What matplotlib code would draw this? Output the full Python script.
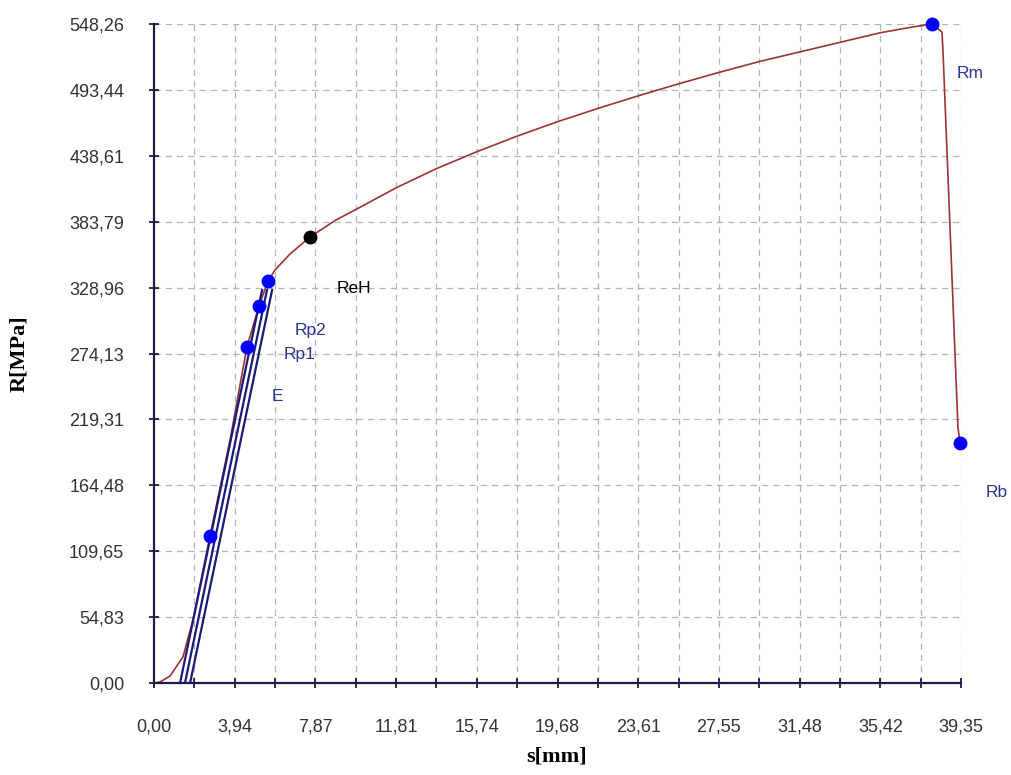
import matplotlib
matplotlib.use("Agg")
import matplotlib.pyplot as plt
from matplotlib.ticker import FixedLocator, FixedFormatter

# strain-stress curve, s [mm] vs R [MPa]
curve_s = [0.00, 0.29, 0.78, 1.41, 1.90, 2.73, 3.71, 4.53, 5.12, 5.56, 5.90, 6.63,
           7.61, 8.85, 9.85, 11.81, 13.78, 15.74, 17.71, 19.68, 21.64, 23.61,
           25.58, 27.55, 29.51, 31.48, 33.45, 35.42, 36.89, 37.94, 38.42, 38.47,
           39.20, 39.30]
curve_r = [0.0, 0.8, 5.8, 21.6, 52.4, 122.3, 202.2, 279.5, 313.7, 334.5, 343.6, 356.9,
           371.1, 385.0, 394.0, 412.0, 428.0, 442.0, 455.0, 467.0, 478.0, 488.5,
           498.5, 508.0, 517.0, 525.0, 533.0, 541.0, 545.5, 548.26, 541.6, 526.7,
           213.0, 199.7]

# modulus line and the two offset lines (start / end points)
line_s0 = [1.27, 1.51, 1.76]
line_s1 = [5.27, 5.51, 5.76]
line_r0 = [0.0, 0.0, 0.0]
line_r1 = [327.0, 327.0, 327.0]

# characteristic points
pt_s = [2.73, 4.53, 5.12, 5.56, 37.94, 39.30]
pt_r = [122.3, 279.5, 313.7, 334.5, 548.26, 199.7]
reh_s, reh_r = 7.61, 371.1

# label positions
lab_text = ["Rp2", "Rp1", "E", "Rm", "Rb"]
lab_s = [7.61, 7.12, 6.00, 39.79, 41.10]
lab_r = [292.9, 272.9, 238.0, 506.7, 158.9]

xticks = [0.0, 3.935, 7.87, 11.805, 15.74, 19.675, 23.61, 27.545, 31.48, 35.415, 39.35]
xlabels = ["0,00", "3,94", "7,87", "11,81", "15,74", "19,68", "23,61", "27,55",
           "31,48", "35,42", "39,35"]
yticks = [0.0, 54.826, 109.652, 164.478, 219.304, 274.13, 328.956, 383.782,
          438.608, 493.434, 548.26]
ylabels = ["0,00", "54,83", "109,65", "164,48", "219,31", "274,13", "328,96",
           "383,79", "438,61", "493,44", "548,26"]

AX = "#1c1c48"
BLUE_TXT = "#2a3590"

fig = plt.figure(figsize=(10.11, 7.75), dpi=100)
ax = fig.add_axes([154 / 1011, 1 - 683 / 775, (961 - 154) / 1011, (683 - 24) / 775])

ax.set_xlim(0, 39.35)
ax.set_ylim(0, 548.26)

# grid: vertical every half step, horizontal at labelled ticks
minor_x = [i * 3.935 / 2 for i in range(21)]
for xv in minor_x[1:]:
    ax.axvline(xv, color="#b4b4b4", lw=0.9, ls=(0, (5, 4)), zorder=0)
for yv in yticks[1:]:
    ax.axhline(yv, color="#b4b4b4", lw=0.9, ls=(0, (5, 4)), zorder=0)

ax.plot(curve_s, curve_r, color="#9c3434", lw=1.2, zorder=2)
for s0, s1, r0, r1 in zip(line_s0, line_s1, line_r0, line_r1):
    ax.plot([s0, s1], [r0, r1], color="#1a1a78", lw=1.6, zorder=3)

ax.plot(pt_s, pt_r, "o", color="#0000ff", ms=9, zorder=4, clip_on=False)
ax.plot([reh_s], [reh_r], "o", color="black", ms=9, zorder=4)

for t, xs, yr in zip(lab_text, lab_s, lab_r):
    ax.text(xs, yr, t, color=BLUE_TXT, fontsize=12.5, ha="center", va="center",
            family="Liberation Sans", clip_on=False)
ax.text(9.75, 328.6, "ReH", color="black", fontsize=12.5, ha="center", va="center",
        family="Liberation Sans")

for side in ["top", "right"]:
    ax.spines[side].set_visible(False)
for side in ["left", "bottom"]:
    ax.spines[side].set_color(AX)
    ax.spines[side].set_linewidth(1.6)

ax.xaxis.set_major_locator(FixedLocator(minor_x))
ax.xaxis.set_major_formatter(FixedFormatter(
    [xlabels[i // 2] if i % 2 == 0 else "" for i in range(21)]))
ax.yaxis.set_major_locator(FixedLocator(yticks))
ax.yaxis.set_major_formatter(FixedFormatter(ylabels))
ax.tick_params(axis="both", direction="inout", length=7, width=1.3, color=AX,
               labelcolor="#333333", labelsize=13)
ax.tick_params(axis="x", pad=22)
ax.tick_params(axis="y", pad=18)
for lbl in ax.get_xticklabels() + ax.get_yticklabels():
    lbl.set_family("Liberation Sans")

fig.text(557 / 1011, 1 - 757 / 775, "s[mm]", ha="center", va="center",
         family="Liberation Serif", fontweight="bold", fontsize=16)
fig.text(19 / 1011, 1 - 354 / 775, "R[MPa]", ha="center", va="center",
         rotation=90, family="Liberation Serif", fontweight="bold", fontsize=16)

fig.savefig("out.png", dpi=100, facecolor="white")
